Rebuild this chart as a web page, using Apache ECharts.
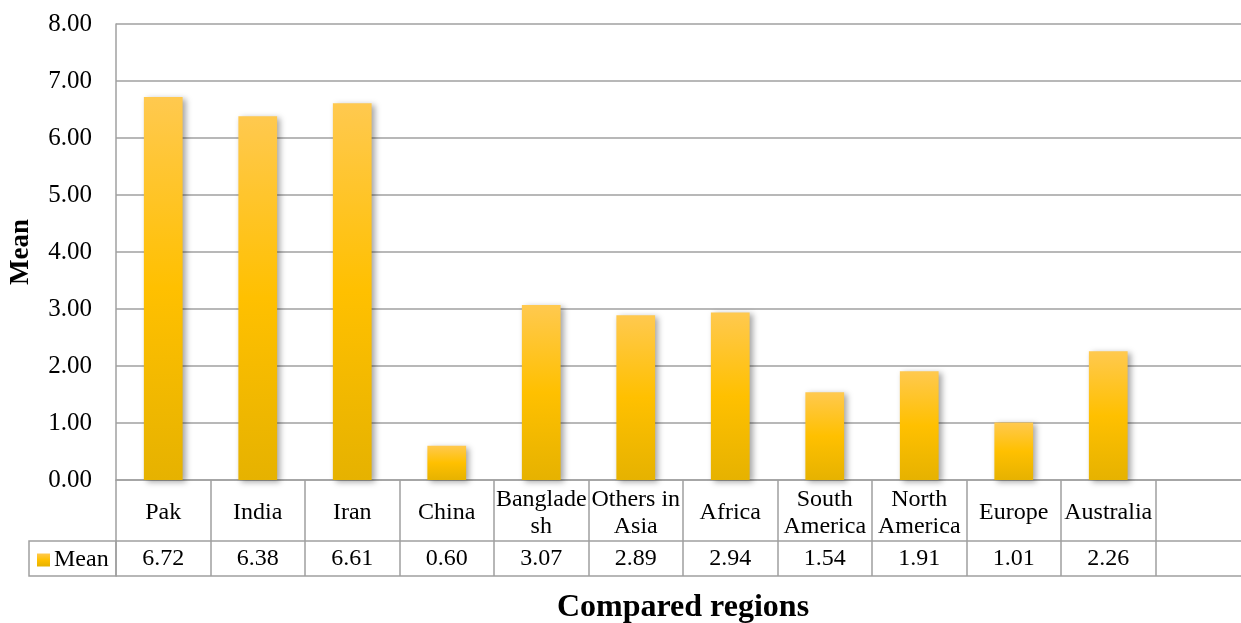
<!DOCTYPE html>
<html>
<head>
<meta charset="utf-8">
<title>Mean by compared region</title>
<script src="https://cdn.jsdelivr.net/npm/echarts@6/dist/echarts.min.js"></script>
<style>
  html, body { margin: 0; padding: 0; background: #ffffff; }
  #chart { width: 1241px; height: 623px; }
</style>
</head>
<body>
<div id="chart"></div>
<script>
// Regions as they appear in the data table (the last column is left empty)
const regions = ['Pak', 'India', 'Iran', 'China', 'Banglade\nsh', 'Others in\nAsia',
                 'Africa', 'South\nAmerica', 'North\nAmerica', 'Europe', 'Australia', ''];
// Mean score per region
const meanValues = [6.72, 6.38, 6.61, 0.60, 3.07, 2.89, 2.94, 1.54, 1.91, 1.01, 2.26];
// Value axis ticks
const yTicks = [0, 1, 2, 3, 4, 5, 6, 7, 8];

const seriesName = 'Mean';
const serif = 'Liberation Serif';
const lineGrey = '#a0a0a0';

const valueRow = regions.map((r, i) => (i < meanValues.length ? meanValues[i].toFixed(2) : ''));

const barFill = new echarts.graphic.LinearGradient(0, 0, 0, 1, [
  { offset: 0, color: '#ffc94f' },
  { offset: 0.5, color: '#ffc000' },
  { offset: 1, color: '#e6b200' }
]);

const chart = echarts.init(document.getElementById('chart'), null, { renderer: 'canvas' });

const gridLeft = 116, gridTop = 24, gridBottomY = 480;
const colWidth = 94.5;

chart.setOption({
  animation: false,
  textStyle: { fontFamily: serif, color: '#000' },
  legend: {
    left: 37,
    top: 548,
    itemWidth: 13,
    itemHeight: 13,
    itemGap: 4,
    icon: 'rect',
    padding: 0,
    textStyle: { fontFamily: serif, fontSize: 24, color: '#000', padding: [0, 0, 0, -1] },
    data: [{ name: seriesName, itemStyle: { color: barFill, shadowBlur: 0 } }]
  },
  grid: {
    left: gridLeft,
    top: gridTop,
    width: colWidth * regions.length,
    height: gridBottomY - gridTop,
    containLabel: false,
    outerBoundsMode: 'none'
  },
  xAxis: [
    {
      // category names row
      type: 'category',
      data: regions,
      position: 'bottom',
      axisLine: { show: true, lineStyle: { color: lineGrey, width: 1.5 } },
      axisTick: { show: true, length: 96, interval: 0, lineStyle: { color: lineGrey, width: 1.5 } },
      axisLabel: {
        interval: 0,
        margin: 33,
        verticalAlign: 'middle',
        fontSize: 24,
        lineHeight: 27,
        color: '#000',
        fontFamily: serif
      }
    },
    {
      // values row of the data table
      type: 'category',
      data: valueRow,
      position: 'bottom',
      offset: 61,
      axisLine: { show: true, lineStyle: { color: lineGrey, width: 1.5 } },
      axisTick: { show: false },
      axisLabel: {
        interval: 0,
        margin: 18,
        verticalAlign: 'middle',
        fontSize: 24,
        color: '#000',
        fontFamily: serif
      }
    },
    {
      // bottom edge of the data table, carrying the category axis title
      type: 'category',
      data: regions,
      position: 'bottom',
      offset: 96,
      name: 'Compared regions',
      nameLocation: 'middle',
      nameGap: 16,
      nameTextStyle: { fontFamily: serif, fontWeight: 'bold', fontSize: 32, color: '#000', verticalAlign: 'top' },
      axisLine: { show: true, lineStyle: { color: lineGrey, width: 1.5 } },
      axisTick: { show: false },
      axisLabel: { show: false }
    }
  ],
  yAxis: {
    type: 'value',
    min: yTicks[0],
    max: yTicks[yTicks.length - 1],
    interval: 1,
    name: 'Mean',
    nameLocation: 'middle',
    nameGap: 81,
    nameRotate: 90,
    nameTextStyle: { fontFamily: serif, fontWeight: 'bold', fontSize: 27, color: '#000' },
    axisLine: { show: true, lineStyle: { color: lineGrey, width: 1.5 } },
    axisTick: { show: false },
    axisLabel: {
      margin: 24,
      fontSize: 25,
      color: '#000',
      fontFamily: serif,
      verticalAlign: 'middle',
      padding: [6, 0, 0, 0],
      formatter: v => v.toFixed(2)
    },
    splitLine: { show: true, lineStyle: { color: lineGrey, width: 1.5 } }
  },
  graphic: [
    {
      // legend key cell of the data table
      type: 'rect',
      shape: { x: 29, y: 541, width: gridLeft - 29, height: 35 },
      style: { fill: 'none', stroke: lineGrey, lineWidth: 1.5 },
      silent: true
    }
  ],
  series: [
    {
      name: seriesName,
      type: 'bar',
      xAxisIndex: 0,
      data: meanValues,
      barWidth: '41%',
      itemStyle: {
        color: barFill,
        shadowColor: 'rgba(0,0,0,0.35)',
        shadowBlur: 6,
        shadowOffsetX: 3,
        shadowOffsetY: 2
      }
    }
  ]
});
</script>
</body>
</html>
